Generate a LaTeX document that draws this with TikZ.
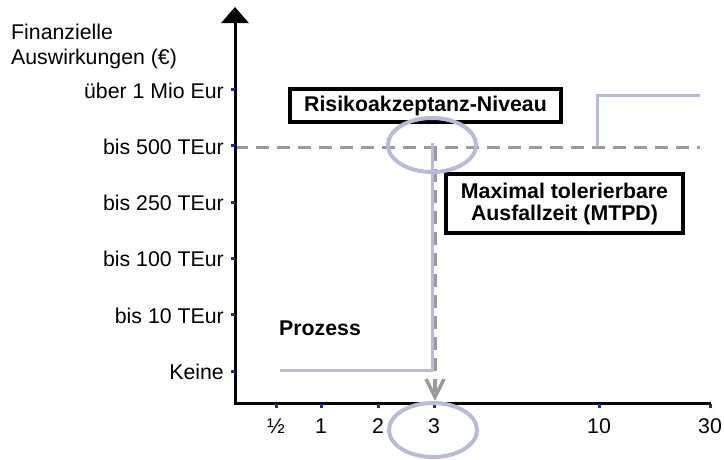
\documentclass[tikz,border=0pt]{standalone}
\usepackage{fontspec}
\setmainfont{Liberation Sans}
\usetikzlibrary{arrows.meta}
\definecolor{lav}{HTML}{B7BAD8}
\definecolor{dgray}{HTML}{9A9A9A}
\definecolor{tickblue}{HTML}{1B2F8A}
\begin{document}
\begin{tikzpicture}[x=1pt,y=-1pt,
  lbl/.style={font=\fontsize{21.3}{25}\selectfont, inner sep=0pt},
  ylbl/.style={lbl, anchor=east},
  xlbl/.style={lbl, anchor=base},
  boxlbl/.style={draw=black, line width=3.2pt, fill=white,
    font=\fontsize{21.3}{22}\selectfont\bfseries, align=center, inner sep=0pt},
  axisline/.style={line width=3pt, black, line join=miter},
  tickmark/.style={tickblue, line width=3pt},
  level/.style={dgray, line width=3.5pt, dash pattern=on 13pt off 8pt},
  barb/.style={dgray, line width=3.5pt, solid, line join=miter},
  curve/.style={lav, line width=3pt},
  ring/.style={lav, line width=4pt},
]
\useasboundingbox (0,0) rectangle (724,459);

% key points
\coordinate (O) at (235,403);
\coordinate (Ytop) at (235,7);
\coordinate (Xend) at (711,403);
\coordinate (LvlL) at (235,147.5);
\coordinate (LvlC) at (435,147.5);
\coordinate (LvlR) at (700,147.5);
\coordinate (LvlD) at (435,397);
\coordinate (BarbL) at (426,379);
\coordinate (BarbR) at (444,379);
\coordinate (P1) at (280,370);
\coordinate (P2) at (432,370);
\coordinate (P3) at (432,143);
\coordinate (Q1) at (597,147);
\coordinate (Q2) at (597,95);
\coordinate (Q3) at (700,95);

% risk acceptance level and MTPD marker
\draw[level] (LvlL) -- (LvlR);
\draw[level] (LvlC) -- (LvlD);
\draw[barb] (BarbL) -- (LvlD) -- (BarbR);

% process curves
\draw[curve] (P1) -- (P2) -- (P3);
\draw[curve] (Q1) -- (Q2) -- (Q3);

% axes
\draw[axisline, -{Triangle[length=16pt,width=27pt]}] (Xend) -- (O) -- (Ytop);

% y axis ticks and labels
\foreach \yy/\txt/\nm in {89.4/über 1 Mio Eur/y6, 145.7/bis 500 TEur/y5, 202/bis 250 TEur/y4,
    258.3/bis 100 TEur/y3, 314.7/bis 10 TEur/y2, 371/Keine/y1} {
  \draw[tickmark] (231,\yy) -- (235,\yy);
  \node[ylbl] (\nm) at (224,\yy+1) {\txt};
}

% x axis ticks and labels
\foreach \xx/\txt/\nm in {276/½/x1, 321/1/x2, 378/2/x3, 434/3/x4, 599/10/x5, 710/30/x6} {
  \draw[tickmark] (\xx,404) -- (\xx,408);
  \node[xlbl] (\nm) at (\xx,433) {\txt};
}

% axis title
\node[lbl, anchor=north west, align=left] (ytitle) at (11,24) {Finanzielle\\Auswirkungen (€)};

% labels
\node[lbl, font=\fontsize{21.3}{25}\selectfont\bfseries, anchor=base west] (proc) at (279,335) {Prozess};
\node[boxlbl, minimum width=271pt, minimum height=33pt] (risk) at (425.5,105.5) {Risikoakzeptanz-Niveau};
\node[boxlbl, minimum width=237pt, minimum height=59pt] (mtpd) at (564.5,203.5) {Maximal tolerierbare\\Ausfallzeit (MTPD)};

% highlight rings
\draw[ring] (432,145) ellipse [x radius=44, y radius=27];
\draw[ring] (433,430) ellipse [x radius=44, y radius=27];
\end{tikzpicture}
\end{document}
